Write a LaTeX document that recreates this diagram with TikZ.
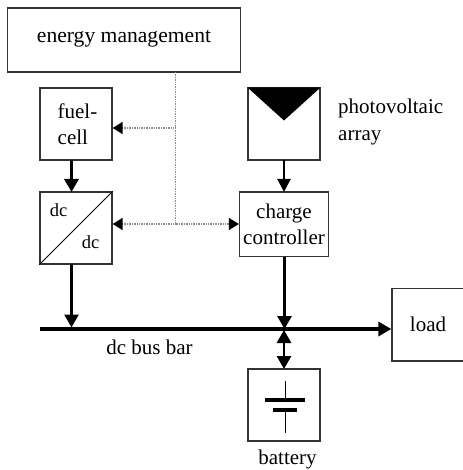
\documentclass[tikz,border=0pt]{standalone}
\usepackage{fontspec}
\setmainfont{Liberation Serif}
\usetikzlibrary{arrows.meta}
\tikzset{
  x=1pt,y=-1pt,
  box/.style={draw=black!80,line width=1.3pt,fill=white,inner sep=0pt,align=left,font=\fontsize{21}{26.5}\selectfont},
  lbl/.style={inner sep=0pt,align=left,font=\fontsize{21}{26.5}\selectfont},
  small/.style={inner sep=0pt,font=\fontsize{18.5}{20}\selectfont},
  ctrl/.style={draw=black!45,line width=1.6pt,dash pattern=on 1pt off 0.7pt},
  ctrlarrow/.style={ctrl,-{Triangle[length=10pt,width=12pt,fill=black,color=black,sep=0pt]}},
  flow/.style={line width=2.8pt,-{Triangle[length=13pt,width=14pt]}},
  thinflow/.style={line width=2pt,-{Triangle[length=13pt,width=13pt]}},
  fatflow/.style={line width=3.5pt,-{Triangle[length=13pt,width=14pt]}},
}
\begin{document}
\begin{tikzpicture}
\useasboundingbox (0,0) rectangle (462,470);
\fill[white] (0,0) rectangle (462,470);
\node[box,minimum width=232.5pt,minimum height=64pt] (em) at (124,40) {\raisebox{8pt}{\fontsize{21.6}{26}\selectfont energy management}};
\node[box,minimum width=72pt,minimum height=72pt] (fc) at (76,124) {\raisebox{-2.5pt}{\hspace*{3pt}fuel-}\\\raisebox{-2.5pt}{\hspace*{3pt}cell}};
\node[box,minimum width=72pt,minimum height=72pt] (dc) at (76,228) {};
\node[box,minimum width=72pt,minimum height=72pt] (pv) at (284,124) {};
\node[box,minimum width=89pt,minimum height=64.5pt,align=center] (cc) at (284,224.2) {\raisebox{-1pt}{charge}\\\raisebox{-1pt}{controller}};
\node[box,minimum width=72pt,minimum height=72.5pt] (ld) at (428,324.8) {load};
\node[box,minimum width=72pt,minimum height=72pt] (bt) at (284,405) {};
% converter
\draw[line width=1pt] (dc.south west) -- (dc.north east);
\node[small] (dc1) at (58.5,210) {dc};
\node[small] (dc2) at (90.5,242) {dc};
% PV wedge
\fill[black] (pv.north west) -- (pv.north east) -- (284,120.5) -- cycle;
% labels
\node[lbl,anchor=west] (pvt) at (338,122) {photovoltaic\\array};
\node[lbl] (bus) at (149.5,347) {dc bus bar};
\node[lbl] (btt) at (287.5,459.5) {battery};
% coordinates
\coordinate (bl) at (40,329);
\coordinate (b1) at (71.5,327.5);
\coordinate (b2) at (284.5,329);
\coordinate (b3) at (284,330);
\coordinate (t) at (175.5,72);
\coordinate (j1) at (175.5,128);
\coordinate (j2) at (175.5,224);
% control
\draw[ctrl] (t) -- (j2);
\draw[ctrlarrow] (j1) -- (fc.east |- j1);
\draw[ctrlarrow] (j2) -- (dc.east |- j2);
\draw[ctrlarrow] (j2) -- (cc.west |- j2);
% power
\draw[fatflow] (71.5,160) -- (71.5,192);
\draw[flow] (71.5,264) -- (b1);
\draw[thinflow] (284,160) -- (284,192);
\draw[flow] (284.5,256.5) -- (b2);
\draw[fatflow] (bl) -- (ld.west |- bl);
\draw[flow,{Triangle[length=13pt,width=14pt]}-{Triangle[length=13pt,width=14pt]}] (b3) -- (284,369);
% battery symbol
\draw[line width=1pt] (285,381) -- (285,400);
\draw[line width=3.2pt] (265,400) -- (305,400);
\draw[line width=3.2pt] (273,410) -- (297,410);
\draw[line width=1pt] (285,410) -- (285,433);
\end{tikzpicture}
\end{document}
